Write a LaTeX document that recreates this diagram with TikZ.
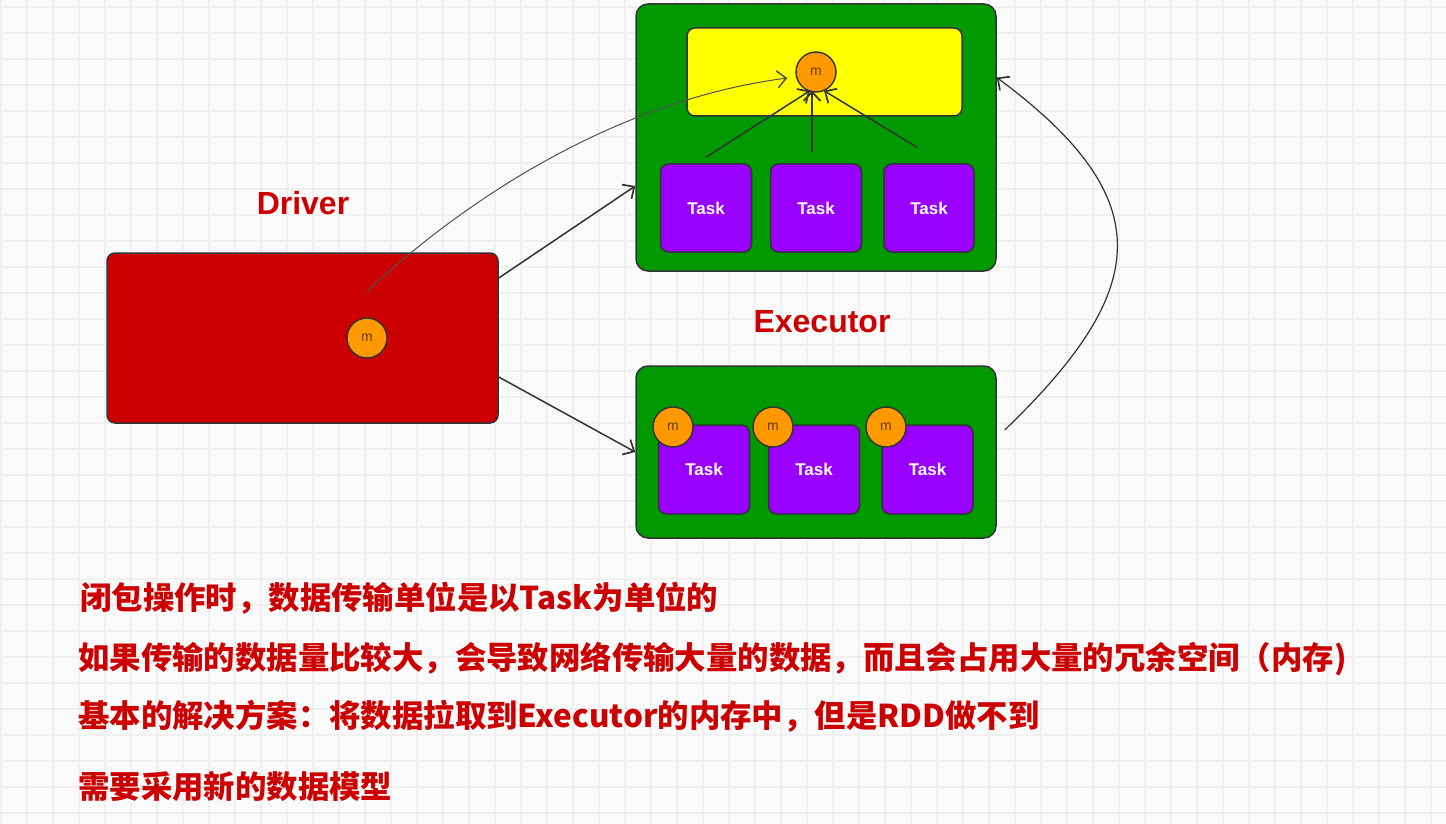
\documentclass[tikz,border=0pt]{standalone}
\usepackage{fontspec}
\setmainfont{Liberation Sans}
\newfontfamily\cjk{Noto Sans CJK SC}
\usetikzlibrary{arrows.meta,calc}
\definecolor{bgc}{HTML}{FAFAFA}
\definecolor{gridc}{HTML}{EFEFEF}
\definecolor{redc}{HTML}{CC0000}
\definecolor{greenc}{HTML}{009900}
\definecolor{yelc}{HTML}{FFFF00}
\definecolor{purc}{HTML}{9900FF}
\definecolor{orac}{HTML}{FF9900}
\definecolor{edgec}{HTML}{333333}
\definecolor{mtext}{HTML}{6A3E00}
\tikzset{
  box/.style={draw=edgec, line width=1.5pt, inner sep=0pt},
  execbox/.style={box, fill=greenc, rounded corners=12pt},
  taskbox/.style={box, fill=purc, rounded corners=8pt, minimum width=91pt, minimum height=88pt,
    text=white, font=\bfseries\fontsize{17}{19}\selectfont},
  mnode/.style={circle, draw=edgec, line width=1.4pt, fill=orac, minimum size=40pt, inner sep=0pt,
    text=mtext, font=\fontsize{14}{16}\selectfont},
  conn/.style={draw=edgec, line width=1.5pt, -{Straight Barb[length=9pt,width=17pt,line width=1.7pt]}},
  thinconn/.style={draw=edgec!85, line width=1pt, -{Straight Barb[length=9pt,width=17pt,line width=1.5pt]}},
  title/.style={text=redc, font=\bfseries\fontsize{32}{36}\selectfont},
  note/.style={text=redc, anchor=west, inner sep=0pt, font=\cjk\bfseries\fontsize{31.4}{36}\selectfont},
  minorgrid/.style={draw=gridc!80!bgc, line width=1.6pt},
  majorgrid/.style={draw=gridc, line width=2.6pt}
}
\begin{document}
\begin{tikzpicture}[x=1pt,y=-1pt]
\fill[bgc] (0,0) rectangle (1446,824);
\useasboundingbox (0,0) rectangle (1446,824);
% grid
\foreach \k in {0,...,27} {
  \draw[minorgrid] ({27+52*\k},0) -- ({27+52*\k},824);
  \draw[majorgrid] ({1+52*\k},0) -- ({1+52*\k},824);
}
\foreach \k in {0,...,15} {
  \draw[minorgrid] (0,{7+52*\k}) -- (1446,{7+52*\k});
  \draw[majorgrid] (0,{33+52*\k}) -- (1446,{33+52*\k});
}

% Driver
\node[box, fill=redc, rounded corners=8pt, minimum width=391pt, minimum height=170pt] (driver) at (302.5,338) {};
\node[mnode] (m0) at (367,338) {m};
\node[title] (driverlbl) at (303,203) {Driver};

% Executor top
\node[execbox, minimum width=360pt, minimum height=267pt] (exec1) at (816,137.5) {};
\node[box, fill=yelc, rounded corners=8pt, minimum width=275pt, minimum height=88pt] (yel) at (824.5,72) {};
\node[mnode] (mt) at (816,72) {m};
\node[taskbox] (t1) at (706,208) {Task};
\node[taskbox] (t2) at (816,208) {Task};
\node[taskbox, minimum width=90pt] (t3) at (929,208) {Task};

% Executor label
\node[title] (execlbl) at (822,322) {Executor};

% Executor bottom
\node[execbox, minimum width=360pt, minimum height=172pt] (exec2) at (816,452) {};
\node[taskbox, minimum height=89pt] (t4) at (704,469.5) {Task};
\node[taskbox, minimum height=89pt] (t5) at (814,469.5) {Task};
\node[taskbox, minimum height=89pt] (t6) at (927.5,469.5) {Task};
\node[mnode] (mb1) at (673,427) {m};
\node[mnode] (mb2) at (773,427) {m};
\node[mnode] (mb3) at (886,427) {m};

% connectors
\draw[conn] ([yshift=60pt]driver.east) -- ([yshift=-48.5pt]exec1.west);
\draw[conn] ([yshift=-39pt]driver.east) -- (exec2.west);
\draw[conn] ([yshift=6pt]t1.north) -- ([xshift=-6pt,yshift=2pt]mt.south);
\draw[conn] ([xshift=-4pt,yshift=11pt]t2.north) -- ([xshift=-4pt,yshift=2pt]mt.south);
\draw[conn] ([xshift=-12pt,yshift=16pt]t3.north) -- ([xshift=8pt,yshift=2pt]mt.south);
\draw[thinconn] ([yshift=26pt]m0.north) .. controls (470,195) and (620,100) .. ([xshift=-8pt,yshift=-6pt]mt.west);
\draw[conn, line width=1.2pt] ([xshift=8pt,yshift=22pt]exec2.east) .. controls (1150,290) and (1162,200) .. ([yshift=60pt]exec1.east);

% notes
\node[note] (n1) at (80,598) {闭包操作时，数据传输单位是以Task为单位的};
\node[note] (n2) at (78,659) {如果传输的数据量比较大，会导致网络传输大量的数据，而且会占用大量的冗余空间（内存)};
\node[note] (n3) at (78,716) {基本的解决方案：将数据拉取到Executor的内存中，但是RDD做不到};
\node[note] (n4) at (78,787) {需要采用新的数据模型};
\end{tikzpicture}
\end{document}
